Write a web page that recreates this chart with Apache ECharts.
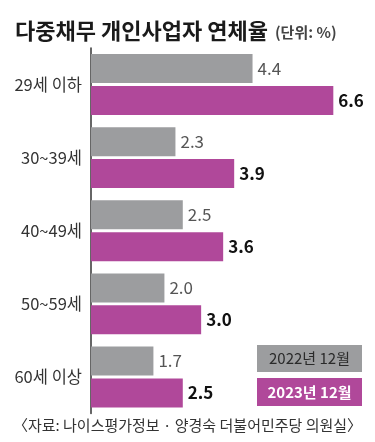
<!DOCTYPE html>
<html><head><meta charset="utf-8">
<script src="https://cdn.jsdelivr.net/npm/echarts@6/dist/echarts.min.js"></script>
<style>html,body{margin:0;padding:0;background:#fff}#c{width:375px;height:442px}</style>
</head><body><div id="c"></div>
<script>
const categories = ['29세 이하', '30~39세', '40~49세', '50~59세', '60세 이상'];
const values2022 = [4.4, 2.3, 2.5, 2.0, 1.7];
const values2023 = [6.6, 3.9, 3.6, 3.0, 2.5];
const seriesNames = ['2022년 12월', '2023년 12월'];
const titleText = '다중채무 개인사업자 연체율';
const unitText = '(단위: %)';
const sourceText = '〈자료: 나이스평가정보 · 양경숙 더불어민주당 의원실〉';

const GRAY = '#9c9d9f', PINK = '#b0489a';
const FONT = '"Noto Sans CJK KR", "Noto Sans", sans-serif';

const chart = echarts.init(document.getElementById('c'));
chart.setOption({
  animation: false,
  textStyle: { fontFamily: FONT },
  title: [
    {
      text: '{a|' + titleText + '} {b|(단위: %)}',
      left: 10, top: 15,
      textStyle: {
        rich: {
          a: { fontFamily: FONT, fontSize: 22, fontWeight: 'bold', color: '#1a1a1a' },
          b: { fontFamily: FONT, fontSize: 15, color: '#444', padding: [2, 0, 0, 3] }
        }
      }
    },
    {
      text: sourceText,
      left: 'center', top: 413,
      textStyle: { fontFamily: FONT, fontSize: 15, fontWeight: 'normal', color: '#333' }
    }
  ],
  grid: { left: 91, right: 27, top: 48, bottom: 28.5 },
  xAxis: { type: 'value', min: 0, max: 7, show: false },
  yAxis: {
    type: 'category', data: categories, inverse: true,
    axisLine: { show: true, lineStyle: { color: '#333', width: 1.5 } },
    axisTick: { show: false },
    axisLabel: { fontFamily: FONT, fontSize: 16.5, color: '#333', margin: 9 }
  },
  series: [
    {
      name: seriesNames[0], type: 'bar', data: values2022,
      barWidth: 29, barGap: '10%',
      itemStyle: { color: GRAY },
      label: { show: true, position: 'right', distance: 5, fontFamily: FONT, fontSize: 17, color: '#555',
        formatter: p => p.value.toFixed(1) }
    },
    {
      name: seriesNames[1], type: 'bar', data: values2023,
      barWidth: 29,
      itemStyle: { color: PINK },
      label: { show: true, position: 'right', distance: 5, fontFamily: FONT, fontSize: 17, fontWeight: 'bold', color: '#111',
        formatter: p => p.value.toFixed(1) }
    }
  ],
  graphic: [
    { type: 'rect', left: 257, top: 345, shape: { width: 105, height: 27 }, style: { fill: GRAY } },
    { type: 'text', x: 309.5, y: 358.5, style: { text: seriesNames[0], fill: '#2a2a2a', font: '15px ' + FONT, align: 'center', verticalAlign: 'middle' } },
    { type: 'rect', left: 257, top: 378, shape: { width: 105, height: 28 }, style: { fill: PINK } },
    { type: 'text', x: 309.5, y: 392, style: { text: seriesNames[1], fill: '#fff', font: 'bold 15px ' + FONT, align: 'center', verticalAlign: 'middle' } }
  ]
});
</script></body></html>
